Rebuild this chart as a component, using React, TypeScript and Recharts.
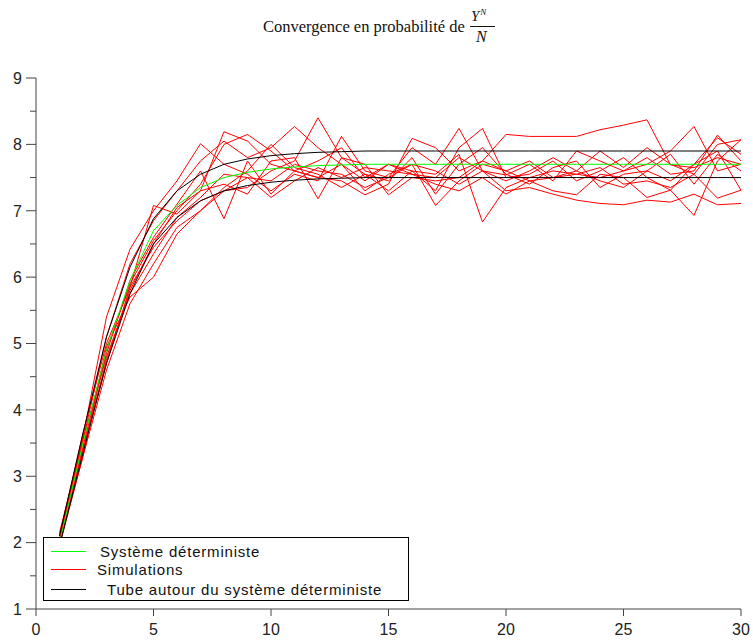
import { LineChart, Line, XAxis, YAxis } from 'recharts'

// instants de 1 à 30
const temps = [1, 2, 3, 4, 5, 6, 7, 8, 9, 10, 11, 12, 13, 14, 15, 16, 17, 18, 19, 20, 21, 22, 23, 24, 25, 26, 27, 28, 29, 30]

const deterministe = [2.0, 3.5, 4.9, 5.95, 6.7, 7.08, 7.35, 7.5, 7.58, 7.63, 7.66, 7.68, 7.69, 7.7, 7.7, 7.7, 7.7, 7.7, 7.7, 7.7, 7.7, 7.7, 7.7, 7.7, 7.7, 7.7, 7.7, 7.7, 7.7, 7.7]
const tubeHaut = [2.1, 3.65, 5.1, 6.15, 6.88, 7.3, 7.55, 7.7, 7.78, 7.83, 7.86, 7.88, 7.89, 7.9, 7.9, 7.9, 7.9, 7.9, 7.9, 7.9, 7.9, 7.9, 7.9, 7.9, 7.9, 7.9, 7.9, 7.9, 7.9, 7.9]
const tubeBas = [1.95, 3.35, 4.7, 5.75, 6.5, 6.9, 7.15, 7.3, 7.38, 7.43, 7.46, 7.48, 7.49, 7.5, 7.5, 7.5, 7.5, 7.5, 7.5, 7.5, 7.5, 7.5, 7.5, 7.5, 7.5, 7.5, 7.5, 7.5, 7.5, 7.5]

const sim1 = [2.05, 3.6, 5.4, 6.42, 7.0, 7.45, 8.01, 7.7, 7.55, 7.3, 7.55, 7.45, 8.12, 7.6, 7.5, 7.95, 7.7, 8.24, 7.6, 7.54, 7.7, 7.45, 7.9, 7.75, 7.6, 7.8, 7.55, 7.6, 8.14, 7.75]
const sim2 = [2.0, 3.3, 4.95, 5.7, 6.0, 6.65, 7.0, 7.3, 7.35, 7.6, 7.75, 8.4, 7.8, 7.55, 7.3, 7.6, 7.55, 7.85, 6.83, 7.35, 7.5, 7.6, 7.55, 7.5, 7.6, 7.7, 7.9, 8.27, 7.6, 7.7]
const sim3 = [2.1, 3.65, 5.0, 5.85, 7.08, 6.95, 7.3, 8.19, 8.05, 7.7, 7.6, 7.5, 7.45, 7.24, 7.4, 8.09, 7.95, 7.6, 7.75, 8.15, 8.12, 8.12, 8.12, 8.22, 8.29, 8.37, 7.69, 7.65, 7.8, 7.7]
const sim4 = [2.0, 3.45, 4.85, 5.95, 6.6, 7.1, 7.6, 6.88, 7.75, 7.25, 7.6, 7.75, 7.95, 7.5, 7.7, 7.6, 7.3, 7.95, 8.24, 7.5, 7.55, 7.75, 7.45, 7.6, 7.8, 7.5, 7.31, 7.7, 7.9, 7.31]
const sim5 = [2.15, 3.55, 4.8, 5.75, 6.35, 6.9, 7.2, 7.55, 7.5, 7.45, 7.7, 7.6, 7.55, 7.35, 7.5, 7.7, 7.6, 7.4, 7.6, 7.3, 7.35, 7.25, 7.16, 7.11, 7.09, 7.16, 7.13, 7.25, 7.09, 7.11]
const sim6 = [2.0, 3.4, 4.75, 5.8, 6.5, 7.05, 7.3, 7.4, 7.25, 7.75, 7.8, 7.18, 7.8, 7.7, 7.24, 7.5, 7.45, 7.5, 7.75, 7.6, 7.45, 7.3, 7.24, 7.55, 7.5, 7.2, 7.31, 6.93, 7.75, 8.07]
const sim7 = [2.1, 3.55, 5.1, 6.2, 6.85, 7.3, 7.75, 8.05, 7.8, 7.95, 8.27, 7.95, 7.7, 7.45, 7.7, 7.55, 7.5, 7.8, 7.6, 7.45, 7.6, 7.8, 7.6, 7.9, 7.65, 7.95, 7.7, 7.55, 8.0, 8.07]
const sim8 = [1.95, 3.3, 4.6, 5.6, 6.2, 6.75, 7.0, 7.35, 7.6, 8.0, 7.65, 7.55, 7.35, 7.55, 7.45, 7.8, 7.25, 7.7, 7.95, 7.55, 7.4, 7.65, 7.75, 7.35, 7.55, 7.6, 7.85, 7.4, 7.85, 7.6]
const sim9 = [2.05, 3.5, 4.9, 5.9, 6.55, 7.0, 7.4, 8.0, 8.15, 7.9, 7.6, 7.5, 7.7, 7.3, 7.55, 7.7, 7.08, 7.45, 7.7, 7.6, 7.75, 7.5, 7.6, 7.45, 7.35, 7.6, 7.45, 7.7, 8.1, 7.85]
const sim10 = [2.0, 3.4, 4.7, 5.85, 6.45, 6.85, 7.15, 7.3, 7.5, 7.2, 7.45, 7.65, 7.5, 7.65, 7.6, 7.55, 7.4, 7.3, 7.5, 7.25, 7.45, 7.5, 7.55, 7.65, 7.4, 7.45, 7.35, 7.55, 7.19, 7.31]
const simulations = [sim1, sim2, sim3, sim4, sim5, sim6, sim7, sim8, sim9, sim10]

const xTicks = [0, 5, 10, 15, 20, 25, 30]
const yTicks = [1, 1.5, 2, 2.5, 3, 3.5, 4, 4.5, 5, 5.5, 6, 6.5, 7, 7.5, 8, 8.5, 9]

const data = temps.map((t, i) => {
  const row: Record<string, number> = { t, det: deterministe[i], haut: tubeHaut[i], bas: tubeBas[i] }
  simulations.forEach((s, k) => { row[`s${k}`] = s[i] })
  return row
})

const axisColor = '#444'
const labelFont = 'Liberation Sans, Arial, sans-serif'

function YTick({ x, y, payload }: any) {
  const v = payload.value as number
  const major = Number.isInteger(v)
  return (
    <g>
      <line x1={x - (major ? 10 : 6)} x2={x} y1={y} y2={y} stroke={axisColor} />
      {major && (
        <text x={x - 14} y={y} dy="0.36em" textAnchor="end" fontSize={16} fontFamily={labelFont} fill="#222">{v}</text>
      )}
    </g>
  )
}

function XTick({ x, y, payload }: any) {
  return (
    <g>
      <line x1={x} x2={x} y1={y} y2={y + 7} stroke={axisColor} />
      <text x={x} y={y + 20} dy="0.36em" textAnchor="middle" fontSize={16} fontFamily={labelFont} fill="#222">{payload.value}</text>
    </g>
  )
}

function Legende() {
  const rows = [
    { color: '#00ff00', label: 'Système déterministe', y: 13, tx: 56 },
    { color: '#ff0000', label: 'Simulations', y: 31, tx: 53 },
    { color: '#000000', label: 'Tube autour du système déterministe', y: 51, tx: 63 },
  ]
  return (
    <div style={{ position: 'absolute', left: 43, top: 537, width: 366, height: 64, border: '1px solid #000', background: '#fff', boxSizing: 'border-box' }}>
      <svg width={364} height={62} style={{ position: 'absolute', left: 0, top: 0 }}>
        {rows.map((r) => (
          <line key={r.label} x1={7} x2={42} y1={r.y + 0.5} y2={r.y + 0.5} stroke={r.color} strokeWidth={1} />
        ))}
      </svg>
      {rows.map((r) => (
        <div key={r.label} style={{ position: 'absolute', left: r.tx, top: r.y - 8, fontFamily: labelFont, fontSize: 15, letterSpacing: 0.8, lineHeight: '18px', color: '#111', whiteSpace: 'nowrap' }}>{r.label}</div>
      ))}
    </div>
  )
}

function Titre() {
  const serif = 'Liberation Serif, DejaVu Serif, serif'
  return (
    <div style={{ position: 'absolute', left: 0, top: 0, width: 753, height: 50, fontFamily: serif, color: '#111' }}>
      <div style={{ position: 'absolute', left: 263, top: 17, fontSize: 16.5, whiteSpace: 'nowrap' }}>Convergence en probabilité de</div>
      <div style={{ position: 'absolute', left: 471, top: 8, fontSize: 15, fontStyle: 'italic', whiteSpace: 'nowrap', lineHeight: '17px' }}>
        Y<span style={{ fontSize: 9, position: 'relative', top: -6, marginLeft: 1 }}>N</span>
      </div>
      <div style={{ position: 'absolute', left: 470, top: 26, width: 25, height: 1, background: '#111' }} />
      <div style={{ position: 'absolute', left: 476, top: 28, fontSize: 16, fontStyle: 'italic', lineHeight: '18px' }}>N</div>
    </div>
  )
}

export default function App() {
  return (
    <div style={{ position: 'absolute', left: 0, top: 0, width: 753, height: 641, background: '#fff' }}>
      <LineChart width={753} height={641} data={data} margin={{ top: 78, right: 12, left: 0, bottom: 0 }}>
        <XAxis
          type="number"
          dataKey="t"
          domain={[0, 30]}
          ticks={xTicks}
          interval={0}
          height={32}
          tickSize={0}
          tickMargin={0}
          tickLine={false}
          axisLine={{ stroke: axisColor }}
          tick={<XTick />}
        />
        <YAxis
          type="number"
          domain={[1, 9]}
          ticks={yTicks}
          interval={0}
          width={36}
          tickSize={0}
          tickMargin={0}
          tickLine={false}
          axisLine={{ stroke: axisColor }}
          tick={<YTick />}
        />
        {simulations.map((_, k) => (
          <Line key={k} type="linear" dataKey={`s${k}`} stroke="#ff0000" strokeWidth={1} dot={false} isAnimationActive={false} />
        ))}
        <Line type="linear" dataKey="det" stroke="#00ff00" strokeWidth={1} dot={false} isAnimationActive={false} />
        <Line type="linear" dataKey="haut" stroke="#000000" strokeWidth={1} dot={false} isAnimationActive={false} />
        <Line type="linear" dataKey="bas" stroke="#000000" strokeWidth={1} dot={false} isAnimationActive={false} />
      </LineChart>
      <Titre />
      <Legende />
    </div>
  )
}
